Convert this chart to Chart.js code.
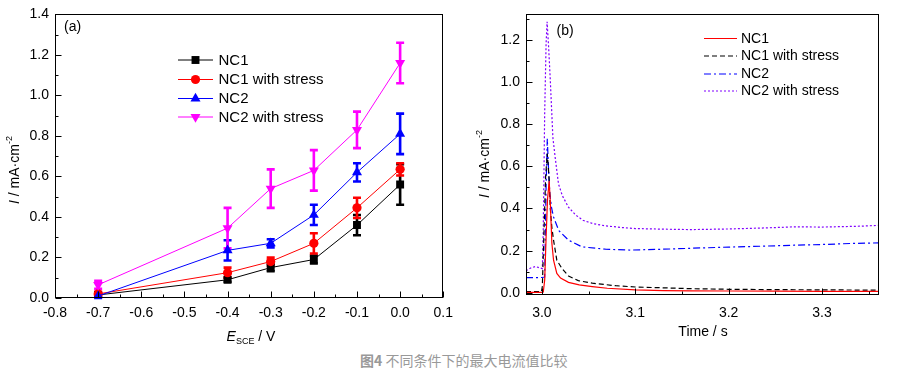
<!DOCTYPE html>
<html><head><meta charset="utf-8">
<script src="https://cdn.jsdelivr.net/npm/chart.js@4/dist/chart.umd.min.js"></script>
<style>
html,body{margin:0;padding:0;background:#fff;width:906px;height:373px;overflow:hidden;}
#ca{position:absolute;left:0;top:0;}
#cb{position:absolute;left:460px;top:0;}
#cap{position:absolute;left:360px;top:352px;font:14px "Noto Sans CJK SC",sans-serif;color:#999;white-space:nowrap;line-height:16px;}
</style></head><body>
<canvas id="ca" width="460" height="345"></canvas>
<canvas id="cb" width="446" height="345"></canvas>
<div id="cap"><b>图4</b> 不同条件下的最大电流值比较</div>
<script>
// ---------- Panel (a) data ----------
const potentials = [-0.7, -0.4, -0.3, -0.2, -0.1, 0.0];
const nc1        = [0.015, 0.09, 0.15, 0.19, 0.36, 0.56];
const nc1Err     = [0.01, 0.01, 0.018, 0.02, 0.05, 0.10];
const nc1s       = [0.02, 0.125, 0.18, 0.27, 0.445, 0.635];
const nc1sErr    = [0.01, 0.025, 0.02, 0.05, 0.05, 0.03];
const nc2        = [0.01, 0.235, 0.27, 0.41, 0.62, 0.81];
const nc2Err     = [0.01, 0.05, 0.02, 0.05, 0.045, 0.10];
const nc2s       = [0.065, 0.345, 0.54, 0.63, 0.83, 1.16];
const nc2sErr    = [0.02, 0.10, 0.095, 0.10, 0.09, 0.10];
const seriesNamesA = ['NC1', 'NC1 with stress', 'NC2', 'NC2 with stress'];
const xTicksA  = [-0.8, -0.7, -0.6, -0.5, -0.4, -0.3, -0.2, -0.1, 0.0, 0.1];
const xLabelsA = ['-0.8', '-0.7', '-0.6', '-0.5', '-0.4', '-0.3', '-0.2', '-0.1', '0.0', '0.1'];
const xMinorA  = [-0.75, -0.65, -0.55, -0.45, -0.35, -0.25, -0.15, -0.05, 0.05];
const yTicksA  = [0, 0.2, 0.4, 0.6, 0.8, 1.0, 1.2, 1.4];
const yLabelsA = ['0.0', '0.2', '0.4', '0.6', '0.8', '1.0', '1.2', '1.4'];
const yMinorA  = [0.1, 0.3, 0.5, 0.7, 0.9, 1.1, 1.3];

// ---------- Panel (b) data ----------
const tNC1 = [2.983, 2.99, 3.0, 3.0015, 3.003, 3.0045, 3.006, 3.0078, 3.0089, 3.0107, 3.0125, 3.016, 3.02, 3.0285, 3.04, 3.054, 3.07, 3.1, 3.13, 3.16, 3.2, 3.25, 3.3, 3.361];
const iNC1 = [0.002, 0.002, 0.002, 0.004, 0.06, 0.26, 0.44, 0.53, 0.44, 0.235, 0.155, 0.092, 0.07, 0.05, 0.038, 0.03, 0.022, 0.014, 0.011, 0.01, 0.009, 0.008, 0.007, 0.007];
const tNC1s = [2.983, 2.99, 2.9995, 3.0005, 3.002, 3.004, 3.0058, 3.0075, 3.009, 3.0107, 3.0125, 3.016, 3.0214, 3.0285, 3.039, 3.054, 3.079, 3.1, 3.13, 3.16, 3.2, 3.27, 3.361];
const iNC1s = [0.006, 0.006, 0.006, 0.03, 0.25, 0.55, 0.66, 0.56, 0.4, 0.31, 0.25, 0.155, 0.116, 0.08, 0.058, 0.046, 0.034, 0.028, 0.024, 0.02, 0.017, 0.015, 0.013];
const tNC2 = [2.983, 2.99, 3.0, 3.003, 3.0045, 3.0058, 3.007, 3.0085, 3.0105, 3.0125, 3.018, 3.0285, 3.043, 3.068, 3.095, 3.13, 3.17, 3.2, 3.234, 3.27, 3.298, 3.33, 3.361];
const iNC2 = [0.072, 0.072, 0.073, 0.075, 0.5, 0.73, 0.6, 0.47, 0.4, 0.36, 0.296, 0.25, 0.218, 0.207, 0.203, 0.207, 0.213, 0.217, 0.221, 0.226, 0.229, 0.234, 0.237];
const tNC2s = [2.983, 2.988, 2.993, 2.998, 3.0005, 3.0015, 3.003, 3.0045, 3.0056, 3.0071, 3.0089, 3.0118, 3.0143, 3.0178, 3.022, 3.0285, 3.036, 3.044, 3.055, 3.068, 3.085, 3.1, 3.13, 3.16, 3.2, 3.24, 3.27, 3.3, 3.34, 3.361];
const iNC2s = [0.105, 0.118, 0.125, 0.118, 0.115, 0.3, 0.85, 1.18, 1.285, 1.175, 1.02, 0.735, 0.64, 0.516, 0.46, 0.406, 0.37, 0.344, 0.328, 0.318, 0.31, 0.305, 0.302, 0.3, 0.303, 0.308, 0.313, 0.312, 0.316, 0.32];
const seriesNamesB = ['NC1', 'NC1 with stress', 'NC2', 'NC2 with stress'];
const xTicksB  = [3.0, 3.1, 3.2, 3.3];
const xLabelsB = ['3.0', '3.1', '3.2', '3.3'];
const xMinorB  = [3.05, 3.15, 3.25, 3.35];
const yTicksB  = [0, 0.2, 0.4, 0.6, 0.8, 1.0, 1.2];
const yLabelsB = ['0.0', '0.2', '0.4', '0.6', '0.8', '1.0', '1.2'];
const yMinorB  = [0.1, 0.3, 0.5, 0.7, 0.9, 1.1, 1.3];

// ---------- helpers ----------
const FONT = '"Liberation Sans", Arial, sans-serif';
const colA = ['#000000', '#ff0000', '#0000ff', '#ff00ff'];
const colB = ['#ff0000', '#000000', '#0000ff', '#8000ff'];
const dashB = [[], [5, 3], [7, 3, 2, 3], [2, 2]];

function frameTicks(chart, xMaj, xMin, yMaj, yMin) {
  const {ctx, chartArea: a} = chart;
  const xs = chart.scales.x, ys = chart.scales.y;
  ctx.save();
  ctx.strokeStyle = '#000'; ctx.lineWidth = 1; ctx.setLineDash([]);
  const L = Math.round(a.left) + 0.5, R = Math.round(a.right) - 0.5;
  const T = Math.round(a.top) + 0.5, B = Math.round(a.bottom) - 0.5;
  ctx.strokeRect(L, T, R - L, B - T);
  ctx.beginPath();
  const xt = (v, len) => { const p = Math.round(xs.getPixelForValue(v)) + 0.5; ctx.moveTo(p, B); ctx.lineTo(p, B - len); };
  const yt = (v, len) => { const p = Math.round(ys.getPixelForValue(v)) + 0.5; ctx.moveTo(L, p); ctx.lineTo(L + len, p); };
  xMaj.forEach(v => xt(v, 6)); xMin.forEach(v => xt(v, 3));
  yMaj.forEach(v => yt(v, 6)); yMin.forEach(v => yt(v, 3));
  ctx.stroke();
  ctx.restore();
}

function rich(ctx, parts, x, y, rot, size) {
  ctx.save();
  ctx.translate(x, y);
  if (rot) ctx.rotate(rot);
  let w = 0;
  const segs = parts.map(p => {
    const fs = (p.sub || p.sup) ? Math.round(size * 0.65) : size;
    const f = (p.it ? 'italic ' : '') + fs + 'px ' + FONT;
    ctx.font = f;
    const mw = ctx.measureText(p.t).width;
    w += mw;
    return Object.assign({}, p, {f, mw});
  });
  let cx = -w / 2;
  ctx.textBaseline = 'middle'; ctx.textAlign = 'left'; ctx.fillStyle = '#000';
  segs.forEach(s => {
    ctx.font = s.f;
    const dy = s.sub ? size * 0.3 : (s.sup ? -size * 0.42 : 0);
    ctx.fillText(s.t, cx, dy);
    cx += s.mw;
  });
  ctx.restore();
}

function marker(ctx, style, x, y, r, color) {
  ctx.save();
  ctx.fillStyle = color; ctx.strokeStyle = color; ctx.setLineDash([]);
  ctx.beginPath();
  if (style === 'rect') {
    const s = r * Math.SQRT1_2;
    ctx.rect(x - s, y - s, 2 * s, 2 * s);
  } else if (style === 'circle') {
    ctx.arc(x, y, r, 0, Math.PI * 2);
  } else if (style === 'up') {
    ctx.moveTo(x, y - r); ctx.lineTo(x + r * 0.866, y + r * 0.5); ctx.lineTo(x - r * 0.866, y + r * 0.5); ctx.closePath();
  } else {
    ctx.moveTo(x, y + r); ctx.lineTo(x + r * 0.866, y - r * 0.5); ctx.lineTo(x - r * 0.866, y - r * 0.5); ctx.closePath();
  }
  ctx.fill();
  ctx.restore();
}

const valsA = [nc1, nc1s, nc2, nc2s];
const errsA = [nc1Err, nc1sErr, nc2Err, nc2sErr];
const stylesA = ['rect', 'circle', 'up', 'down'];
const radA = [5.6, 4.6, 5.8, 5.8];

const decoA = {
  id: 'decoA',
  beforeDatasetsDraw(chart) {
    const ctx = chart.ctx, xs = chart.scales.x, ys = chart.scales.y;
    ctx.save();
    ctx.lineWidth = 2.6; ctx.lineCap = 'butt';
    for (let s = 0; s < 4; s++) {
      ctx.strokeStyle = colA[s];
      ctx.beginPath();
      potentials.forEach((p, i) => {
        const px = xs.getPixelForValue(p);
        const y1 = ys.getPixelForValue(valsA[s][i] + errsA[s][i]);
        const y0 = ys.getPixelForValue(valsA[s][i] - errsA[s][i]);
        ctx.moveTo(px, y0); ctx.lineTo(px, y1);
        ctx.moveTo(px - 4, y1); ctx.lineTo(px + 4, y1);
        ctx.moveTo(px - 4, y0); ctx.lineTo(px + 4, y0);
      });
      ctx.stroke();
    }
    ctx.restore();
  },
  afterDraw(chart) {
    const ctx = chart.ctx;
    frameTicks(chart, xTicksA, xMinorA, yTicksA, yMinorA);
    ctx.save();
    ctx.font = '14px ' + FONT; ctx.fillStyle = '#000'; ctx.textBaseline = 'middle';
    ctx.fillText('(a)', 64, 27);
    const ys = [60, 79.5, 98.5, 117];
    for (let s = 0; s < 4; s++) {
      ctx.strokeStyle = colA[s]; ctx.lineWidth = 1;
      ctx.beginPath(); ctx.moveTo(178, ys[s]); ctx.lineTo(213, ys[s]); ctx.stroke();
      marker(ctx, stylesA[s], 195.5, ys[s], radA[s], colA[s]);
      ctx.fillStyle = '#000'; ctx.font = '15px ' + FONT; ctx.textBaseline = 'middle';
      ctx.fillText(seriesNamesA[s], 218.5, ys[s] + 0.5);
    }
    ctx.restore();
    rich(ctx, [{t: 'I', it: true}, {t: ' / mA·cm'}, {t: '-2', sup: true}], 15, 170, -Math.PI / 2, 14);
    rich(ctx, [{t: 'E', it: true}, {t: 'SCE', sub: true}, {t: ' / V'}], 251, 337, 0, 14);
  }
};

const ptStyleA = ['rect', 'circle', 'triangle', 'triangle'];
const ptRotA = [0, 0, 0, 180];
const chartA = new Chart(document.getElementById('ca'), {
  type: 'line',
  data: {
    labels: potentials,
    datasets: valsA.map((v, s) => ({
      label: seriesNamesA[s],
      data: potentials.map((p, i) => ({x: p, y: v[i]})),
      borderColor: colA[s], backgroundColor: colA[s],
      pointBackgroundColor: colA[s], pointBorderColor: colA[s],
      borderWidth: 1, pointStyle: ptStyleA[s], pointRotation: ptRotA[s],
      pointRadius: radA[s], pointBorderWidth: 0, tension: 0, order: 4 - s
    }))
  },
  options: {
    responsive: false, animation: false, devicePixelRatio: 1,
    layout: {padding: {top: 12, right: 15, left: 0, bottom: 0}},
    plugins: {legend: {display: false}, tooltip: {enabled: false}},
    scales: {
      x: {
        type: 'linear', min: -0.8, max: 0.1,
        grid: {display: false, drawTicks: false}, border: {display: false},
        afterBuildTicks: ax => { ax.ticks = xTicksA.map(v => ({value: v})); },
        afterFit: ax => { ax.height = 47; },
        ticks: {autoSkip: false, maxRotation: 0, padding: 7, color: '#000',
          font: {family: FONT, size: 14}, callback: (v, i) => xLabelsA[i]}
      },
      y: {
        type: 'linear', min: 0, max: 1.4,
        grid: {display: false, drawTicks: false}, border: {display: false},
        afterBuildTicks: ax => { ax.ticks = yTicksA.map(v => ({value: v})); },
        afterFit: ax => { ax.width = 55; },
        ticks: {autoSkip: false, padding: 6, color: '#000',
          font: {family: FONT, size: 14}, callback: (v, i) => yLabelsA[i]}
      }
    }
  },
  plugins: [decoA]
});

// ---------- Panel (b) ----------
const tB = [tNC1, tNC1s, tNC2, tNC2s];
const iB = [iNC1, iNC1s, iNC2, iNC2s];
const decoB = {
  id: 'decoB',
  afterDraw(chart) {
    const ctx = chart.ctx;
    frameTicks(chart, xTicksB, xMinorB, yTicksB, yMinorB);
    ctx.save();
    ctx.font = '14px ' + FONT; ctx.fillStyle = '#000'; ctx.textBaseline = 'middle';
    ctx.fillText('(b)', 96.5, 31);
    const ys = [38.5, 56, 74, 91];
    for (let s = 0; s < 4; s++) {
      ctx.strokeStyle = colB[s]; ctx.lineWidth = 1.2; ctx.setLineDash(dashB[s]);
      ctx.beginPath(); ctx.moveTo(244, ys[s]); ctx.lineTo(277, ys[s]); ctx.stroke();
      ctx.setLineDash([]);
      ctx.fillStyle = '#000'; ctx.font = '14px ' + FONT; ctx.textBaseline = 'middle';
      ctx.fillText(seriesNamesB[s], 281, ys[s] + 0.5);
    }
    ctx.restore();
    rich(ctx, [{t: 'I', it: true}, {t: ' / mA·cm'}, {t: '-2', sup: true}], 25, 164, -Math.PI / 2, 14);
    rich(ctx, [{t: 'Time / s'}], 243, 332, 0, 14);
  }
};

const chartB = new Chart(document.getElementById('cb'), {
  type: 'scatter',
  data: {
    datasets: tB.map((t, s) => ({
      label: seriesNamesB[s],
      data: t.map((x, i) => ({x: x, y: iB[s][i]})),
      showLine: true, borderColor: colB[s], backgroundColor: colB[s],
      borderWidth: 1.2, borderDash: dashB[s], pointRadius: 0, tension: 0, order: s
    }))
  },
  options: {
    responsive: false, animation: false, devicePixelRatio: 1,
    layout: {padding: {top: 13, right: 27, left: 0, bottom: 0}},
    plugins: {legend: {display: false}, tooltip: {enabled: false}},
    scales: {
      x: {
        type: 'linear', min: 2.983, max: 3.361,
        grid: {display: false, drawTicks: false}, border: {display: false},
        afterBuildTicks: ax => { ax.ticks = xTicksB.map(v => ({value: v})); },
        afterFit: ax => { ax.height = 50; },
        ticks: {autoSkip: false, maxRotation: 0, padding: 10, color: '#000',
          font: {family: FONT, size: 14}, callback: (v, i) => xLabelsB[i]}
      },
      y: {
        type: 'linear', min: -0.01, max: 1.32,
        grid: {display: false, drawTicks: false}, border: {display: false},
        afterBuildTicks: ax => { ax.ticks = yTicksB.map(v => ({value: v})); },
        afterFit: ax => { ax.width = 66; },
        ticks: {autoSkip: false, padding: 6, color: '#000',
          font: {family: FONT, size: 14}, callback: (v, i) => yLabelsB[i]}
      }
    }
  },
  plugins: [decoB]
});
</script>
</body></html>
